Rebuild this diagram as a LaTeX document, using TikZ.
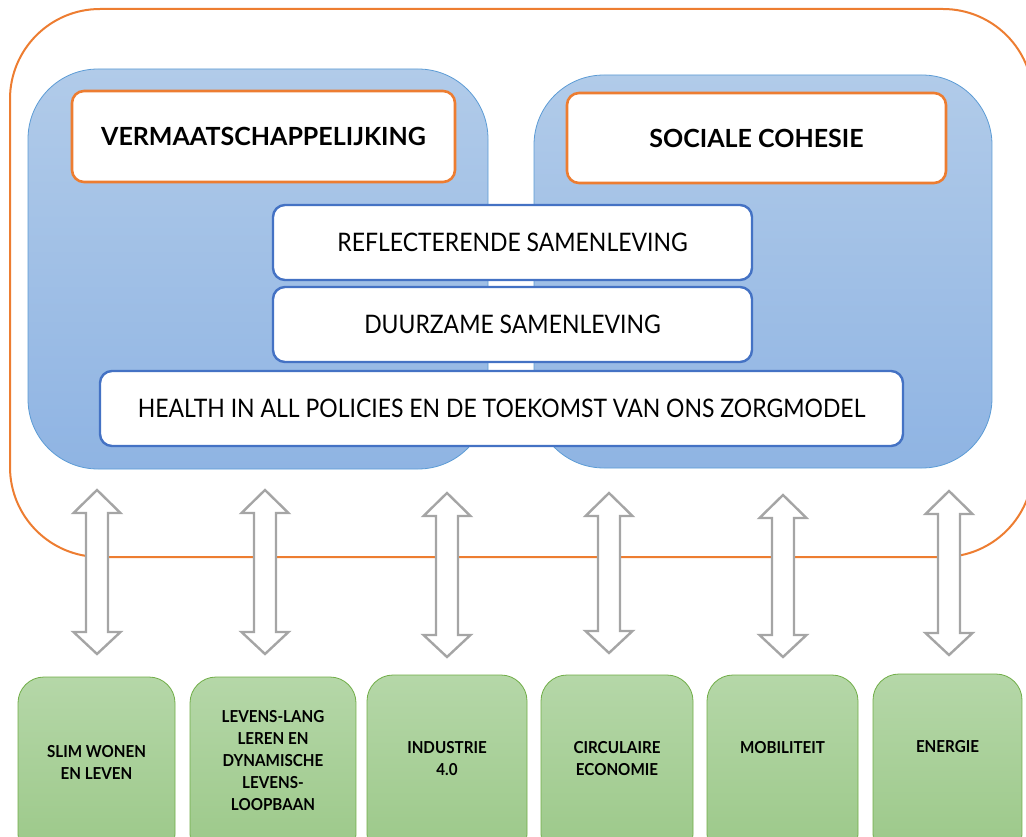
\documentclass[tikz,border=0pt]{standalone}
\usepackage{fontspec}
\setmainfont{Lato}
\newfontfamily\regcond[FakeStretch=0.9]{Lato}
\newfontfamily\greencond[FakeStretch=0.92]{Lato}
\definecolor{orng}{HTML}{ED7D31}
\definecolor{bluestroke}{HTML}{5B9BD5}
\definecolor{bluebox}{HTML}{4472C4}
\definecolor{bluetop}{HTML}{B1CBE9}
\definecolor{bluebot}{HTML}{8FB4E3}
\definecolor{greentop}{HTML}{B5D7A8}
\definecolor{greenbot}{HTML}{9BC888}
\definecolor{greenstroke}{HTML}{70AD47}
\definecolor{arrowgray}{HTML}{A5A5A5}
\begin{document}
\begin{tikzpicture}[x=1pt,y=-1pt,
  outerbox/.style={draw=orng, line width=2pt, rounded corners=90pt},
  bluebig/.style={draw=bluestroke, line width=0.8pt, rounded corners=70pt, top color=bluetop, bottom color=bluebot, inner sep=0pt},
  orangebox/.style={draw=orng, line width=2.6pt, fill=white, rounded corners=12pt, inner sep=0pt,
    font=\bfseries\fontsize{25}{30}\selectfont},
  whitebox/.style={draw=bluebox, line width=2.4pt, fill=white, rounded corners=12pt, inner sep=0pt,
    minimum width=479pt, minimum height=75pt, font=\regcond\fontsize{25.5}{30}\selectfont},
  greenbox/.style={draw=greenstroke, line width=0.8pt, rounded corners=26pt, top color=greentop, bottom color=greenbot, inner sep=0pt},
  greentext/.style={align=center, inner sep=0pt, font=\greencond\bfseries\fontsize{16.5}{22}\selectfont},
  blockarrow/.style={draw=arrowgray, line width=2.4pt, fill=white, line join=miter}
]
\useasboundingbox (0,0) rectangle (1026,837);

% outer orange frame
\draw[outerbox] (10,9) rectangle (1033,557);

% blue panels
\node[bluebig, minimum width=460pt, minimum height=400pt] (left) at (258,269) {};
\node[bluebig, minimum width=458pt, minimum height=393pt] (right) at (763,271.5) {};

% orange headings
\node[orangebox, minimum width=383pt, minimum height=91pt] (verm) at (263.5,136.5) {VERMAATSCHAPPELIJKING};
\node[orangebox, minimum width=379pt, minimum height=90pt] (soc) at (756.5,138) {SOCIALE COHESIE};

% white boxes
\node[whitebox] (refl) at (512.5,242.5) {REFLECTERENDE SAMENLEVING};
\node[whitebox] (duur) at (512.5,324.5) {DUURZAME SAMENLEVING};
\node[whitebox, minimum width=803pt] (health) at (501.5,408.5) {HEALTH IN ALL POLICIES EN DE TOEKOMST VAN ONS ZORGMODEL};

% double block arrows
\foreach \x/\t/\b in {97/490/654, 265/490/654, 447/493/657, 609/493/653, 783/495/657, 949/491/655}{
  \draw[blockarrow] (\x,\t) -- (\x+23.5,\t+23) -- (\x+11,\t+23) -- (\x+11,\b-22) -- (\x+23.5,\b-22)
    -- (\x,\b) -- (\x-23.5,\b-22) -- (\x-11,\b-22) -- (\x-11,\t+23) -- (\x-23.5,\t+23) -- cycle;
}

% green boxes
\node[greenbox, minimum width=157pt, minimum height=183pt] (g1) at (96.5,768.5) {};
\node[greenbox, minimum width=166pt, minimum height=183pt] (g2) at (273,768.5) {};
\node[greenbox, minimum width=160pt, minimum height=185pt] (g3) at (447,767.5) {};
\node[greenbox, minimum width=152pt, minimum height=185pt] (g4) at (617,767.5) {};
\node[greenbox, minimum width=151pt, minimum height=185pt] (g5) at (782.5,767.5) {};
\node[greenbox, minimum width=149pt, minimum height=186pt] (g6) at (947.5,767) {};

\node[greentext] (t1) at (96.5,762) {SLIM WONEN\\EN LEVEN};
\node[greentext] (t2) at (273,761) {LEVENS-LANG\\LEREN EN\\DYNAMISCHE\\LEVENS-\\LOOPBAAN};
\node[greentext] (t3) at (447,759) {INDUSTRIE\\4.0};
\node[greentext] (t4) at (617,759) {CIRCULAIRE\\ECONOMIE};
\node[greentext] (t5) at (782.5,748) {MOBILITEIT};
\node[greentext] (t6) at (947.5,747) {ENERGIE};
\end{tikzpicture}
\end{document}
